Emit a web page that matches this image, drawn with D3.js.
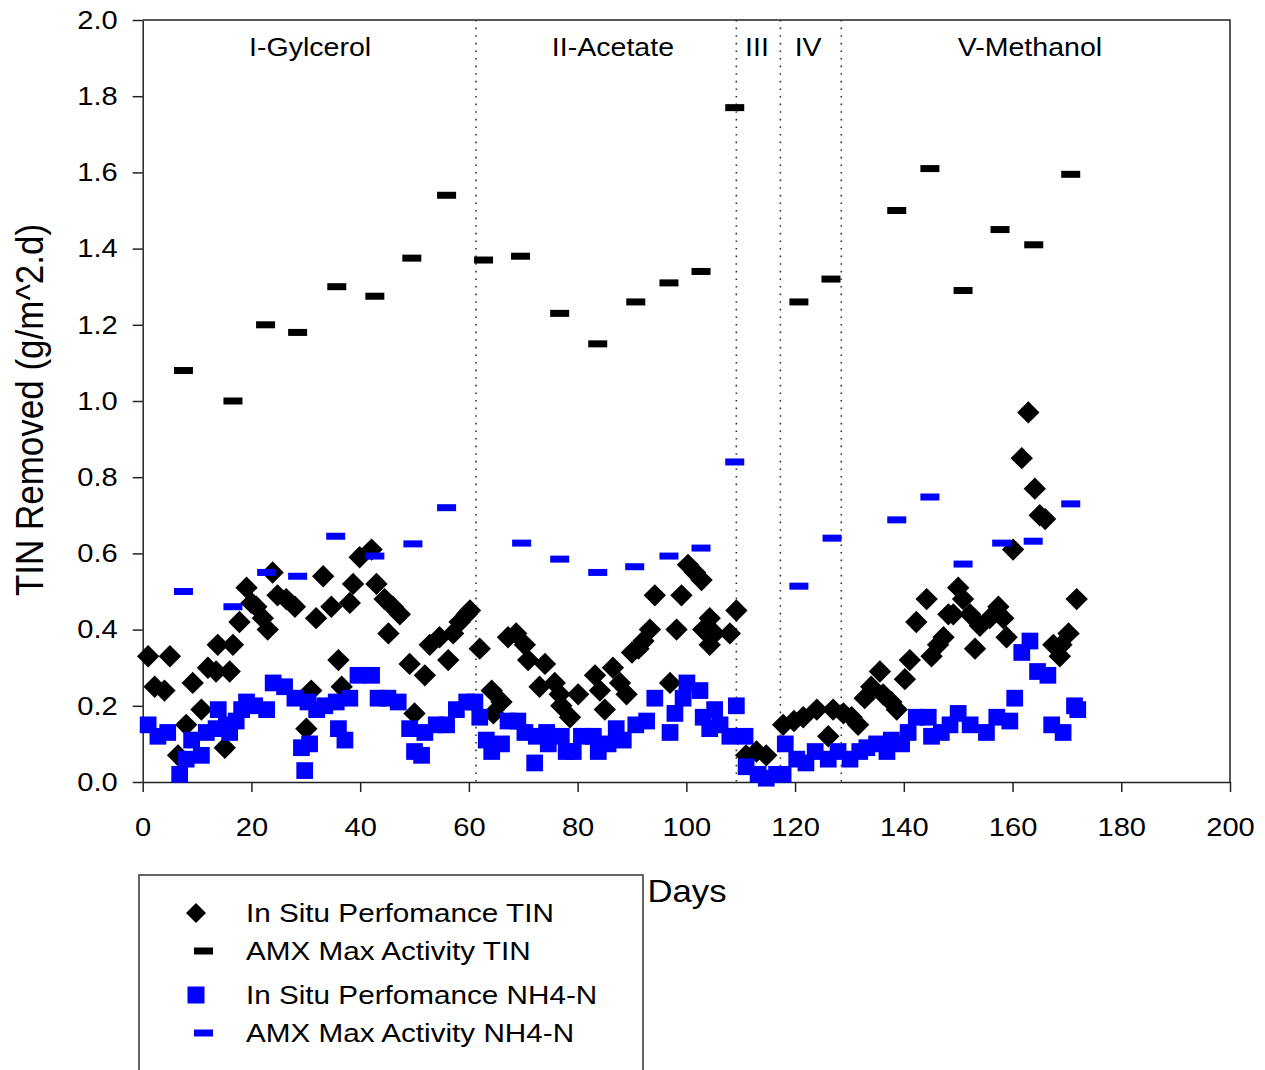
<!DOCTYPE html>
<html>
<head>
<meta charset="utf-8">
<script src="https://cdn.jsdelivr.net/npm/d3@7"></script>
<style>
  body { margin: 0; background: #fff; }
  text { font-family: "Liberation Sans", Arial, sans-serif; fill: #000; }
</style>
</head>
<body>
<svg id="chart" width="1265" height="1070"></svg>
<script>
// [day, g/m^2.d]
var tinInSitu = [
    [1.0, 0.33], [2.2, 0.25], [4.0, 0.24], [5.0, 0.33], [6.5, 0.07], [8.0, 0.15],
    [9.2, 0.26], [10.8, 0.19], [12.0, 0.30], [13.5, 0.29], [13.8, 0.36], [15.1, 0.09],
    [16.0, 0.29], [16.6, 0.36], [17.8, 0.42], [19.1, 0.51], [20.0, 0.47], [20.9, 0.46],
    [22.1, 0.43], [23.0, 0.40], [23.9, 0.55], [24.8, 0.49], [26.4, 0.48], [28.0, 0.46],
    [30.1, 0.14], [31.0, 0.24], [31.9, 0.43], [33.2, 0.54], [34.7, 0.46], [36.0, 0.32],
    [36.6, 0.25], [38.1, 0.47], [38.7, 0.52], [39.9, 0.59], [42.1, 0.61], [43.0, 0.52],
    [44.5, 0.48], [45.2, 0.39], [46.0, 0.46], [47.3, 0.44], [49.1, 0.31], [50.0, 0.18],
    [51.9, 0.28], [52.8, 0.36], [54.6, 0.38], [56.2, 0.32], [57.1, 0.39], [58.3, 0.42],
    [59.6, 0.44], [60.2, 0.45], [62.0, 0.35], [64.2, 0.24], [64.5, 0.18], [66.0, 0.21],
    [67.2, 0.38], [68.7, 0.39], [70.3, 0.36], [70.9, 0.32], [73.0, 0.25], [74.0, 0.31],
    [75.8, 0.26], [76.7, 0.23], [77.0, 0.20], [78.6, 0.17], [80.1, 0.23], [83.2, 0.28],
    [84.1, 0.24], [85.0, 0.19], [86.5, 0.30], [87.8, 0.26], [89.0, 0.23], [90.0, 0.34],
    [91.2, 0.35], [92.1, 0.37], [93.3, 0.40], [94.2, 0.49], [97.0, 0.26], [98.2, 0.40],
    [99.1, 0.49], [100.3, 0.57], [101.6, 0.55], [102.8, 0.53], [103.1, 0.40], [104.3, 0.43],
    [104.3, 0.36], [105.2, 0.39], [108.0, 0.39], [109.2, 0.45], [111.0, 0.07], [112.9, 0.08],
    [114.7, 0.07], [117.8, 0.15], [119.8, 0.16], [121.5, 0.17], [124.0, 0.19], [126.1, 0.12],
    [127.0, 0.19], [128.9, 0.18], [130.4, 0.17], [131.6, 0.15], [132.8, 0.22], [134.0, 0.25],
    [135.6, 0.29], [136.2, 0.23], [137.7, 0.21], [138.7, 0.19], [140.2, 0.27], [141.1, 0.32],
    [142.3, 0.42], [144.2, 0.48], [145.1, 0.33], [146.3, 0.36], [147.3, 0.38], [148.2, 0.44],
    [149.1, 0.44], [150.0, 0.51], [150.9, 0.48], [152.2, 0.44], [153.1, 0.35], [154.0, 0.41],
    [155.8, 0.43], [157.4, 0.46], [158.3, 0.43], [158.9, 0.38], [160.1, 0.61], [161.7, 0.85],
    [162.9, 0.97], [164.1, 0.77], [165.0, 0.70], [166.0, 0.69], [167.5, 0.36], [168.7, 0.33],
    [169.0, 0.36], [170.3, 0.39], [171.8, 0.48]
];

var tinMax = [
    [7.5, 1.08], [16.6, 1.00], [22.6, 1.20], [28.5, 1.18], [35.7, 1.30], [42.7, 1.275],
    [49.5, 1.375], [55.9, 1.54], [62.7, 1.37], [69.5, 1.38], [76.7, 1.23], [83.7, 1.15],
    [90.7, 1.26], [96.8, 1.31], [102.7, 1.34], [108.9, 1.77], [120.7, 1.26], [126.6, 1.32],
    [138.7, 1.50], [144.8, 1.61], [150.9, 1.29], [157.7, 1.45], [163.9, 1.41], [170.7, 1.595]
];

var nh4InSitu = [
    [1.0, 0.15], [2.8, 0.12], [4.6, 0.13], [6.8, 0.02], [8.0, 0.06], [9.0, 0.11],
    [10.8, 0.07], [11.7, 0.13], [13.5, 0.14], [13.9, 0.19], [15.4, 0.15], [16.0, 0.13],
    [17.2, 0.16], [18.2, 0.19], [19.1, 0.21], [20.6, 0.20], [22.8, 0.19], [24.0, 0.26],
    [26.1, 0.25], [28.0, 0.22], [29.2, 0.09], [29.8, 0.03], [30.4, 0.21], [30.7, 0.10],
    [32.0, 0.19], [33.5, 0.20], [35.6, 0.21], [36.0, 0.14], [37.2, 0.11], [38.1, 0.22],
    [39.6, 0.28], [42.1, 0.28], [43.3, 0.22], [45.1, 0.22], [47.0, 0.21], [49.1, 0.14],
    [50.0, 0.08], [51.3, 0.07], [51.9, 0.13], [54.0, 0.15], [55.9, 0.15], [57.7, 0.19],
    [59.6, 0.21], [61.1, 0.21], [62.0, 0.17], [63.2, 0.11], [64.2, 0.08], [66.0, 0.10],
    [67.2, 0.16], [69.0, 0.16], [70.3, 0.13], [72.1, 0.05], [72.4, 0.12], [74.3, 0.13],
    [74.6, 0.10], [77.0, 0.12], [77.9, 0.08], [79.2, 0.08], [80.7, 0.12], [82.9, 0.12],
    [83.8, 0.08], [85.6, 0.10], [87.1, 0.14], [88.4, 0.11], [90.7, 0.15], [92.7, 0.16],
    [94.2, 0.22], [97.0, 0.13], [97.9, 0.18], [99.4, 0.22], [100.1, 0.26], [102.5, 0.24],
    [103.1, 0.17], [104.3, 0.14], [105.2, 0.19], [106.2, 0.15], [108.0, 0.12], [109.2, 0.20],
    [110.8, 0.12], [111.0, 0.04], [113.2, 0.02], [114.7, 0.01], [116.6, 0.02], [117.8, 0.02],
    [118.2, 0.10], [120.3, 0.06], [122.0, 0.05], [123.7, 0.08], [126.1, 0.06], [127.9, 0.08],
    [130.1, 0.06], [131.9, 0.08], [133.2, 0.09], [135.0, 0.10], [136.9, 0.08], [137.7, 0.11],
    [139.6, 0.10], [140.8, 0.13], [142.3, 0.17], [144.5, 0.17], [145.1, 0.12], [146.9, 0.13],
    [148.5, 0.15], [150.0, 0.18], [152.2, 0.15], [155.2, 0.13], [157.1, 0.17], [159.5, 0.16],
    [160.4, 0.22], [161.7, 0.34], [163.2, 0.37], [164.6, 0.29], [166.5, 0.28], [167.2, 0.15],
    [169.3, 0.13], [171.4, 0.20], [172.0, 0.19]
];

var nh4Max = [
    [7.5, 0.50], [16.6, 0.46], [22.8, 0.55], [28.5, 0.54], [35.5, 0.645], [42.7, 0.593],
    [49.7, 0.625], [55.9, 0.72], [69.7, 0.627], [76.7, 0.585], [83.7, 0.55], [90.5, 0.565],
    [96.8, 0.593], [102.7, 0.614], [108.9, 0.84], [120.7, 0.514], [126.8, 0.64], [138.7, 0.688],
    [144.8, 0.748], [150.9, 0.572], [158.0, 0.627], [163.8, 0.632], [170.7, 0.73]
];

var phaseBreaks = [61.3, 109.2, 117.3, 128.5];
var phaseNames = ['I-Gylcerol', 'II-Acetate', 'III', 'IV', 'V-Methanol'];
var phaseCentres = [30.8, 86.5, 113.0, 122.4, 163.2];

var xTicks = d3.range(0, 201, 20);
var yTicks = d3.range(0, 2.01, 0.2);

var legendNames = ['In Situ Perfomance TIN', 'AMX Max Activity TIN',
    'In Situ Perfomance NH4-N', 'AMX Max Activity NH4-N'];

var stretch = 1.12; // the source picture is a bit wider than tall

var svg = d3.select('#chart');

var x = d3.scaleLinear().domain([0, 200]).range([142.7, 1230]);
var y = d3.scaleLinear().domain([0, 2]).range([782, 20]);

// frame (top and right)
svg.append('path')
    .attr('d', 'M' + x(0) + ',' + y(2) + 'H' + x(200) + 'V' + y(0))
    .attr('fill', 'none')
    .attr('stroke', '#222')
    .attr('stroke-width', 1.5)

// phase separators
svg.selectAll('.sep')
    .data(phaseBreaks)
    .enter().append('line')
    .attr('class', 'sep')
    .attr('x1', d => x(d))
    .attr('x2', d => x(d))
    .attr('y1', y(2))
    .attr('y2', y(0))
    .attr('stroke', '#333')
    .attr('stroke-width', 1.6)
    .attr('stroke-dasharray', '1.6,6')

svg.selectAll('.phase')
    .data(phaseNames)
    .enter().append('text')
    .attr('class', 'phase')
    .attr('text-anchor', 'middle')
    .attr('font-size', 25.5)
    .attr('transform', (d, i) => 'translate(' + x(phaseCentres[i]) + ',56) scale(' + stretch + ',1)')
    .text(d => d)

// axes
var xAxis = svg.append('g')
    .attr('transform', 'translate(0,' + y(0) + ')')
    .call(d3.axisBottom(x).tickValues(xTicks).tickSize(10).tickPadding(26).tickSizeOuter(0))
var yAxis = svg.append('g')
    .attr('transform', 'translate(' + x(0) + ',0)')
    .call(d3.axisLeft(y).tickValues(yTicks).tickFormat(d3.format('.1f')).tickSize(10).tickPadding(15).tickSizeOuter(0))

;[xAxis, yAxis].forEach(a => {
    a.select('.domain').attr('stroke', '#222').attr('stroke-width', 1.5)
    a.selectAll('.tick line').attr('stroke', '#222').attr('stroke-width', 1.5)
    a.selectAll('.tick text')
        .attr('font-size', 26)
        .attr('font-family', '"Liberation Sans", Arial, sans-serif')
        .attr('fill', '#000')
})
yAxis.selectAll('.tick text').each(function () {
    var t = d3.select(this)
    var tx = +t.attr('x')
    t.attr('x', 0).attr('transform', 'translate(' + tx + ',0) scale(' + stretch + ',1)')
})
xAxis.selectAll('.tick text').attr('transform', 'scale(' + stretch + ',1)')

svg.append('text')
    .attr('text-anchor', 'middle')
    .attr('font-size', 35)
    .attr('transform', 'translate(43,410) scale(' + stretch + ',1) rotate(-90)')
    .text('TIN Removed (g/m^2.d)')

svg.append('text')
    .attr('text-anchor', 'middle')
    .attr('font-size', 31)
    .attr('transform', 'translate(687,902) scale(' + stretch + ',1)')
    .text('Days')

// marks
var diamond = d3.symbol().type(d3.symbolSquare).size(250)
var square = d3.symbol().type(d3.symbolSquare).size(280)

svg.append('g').selectAll('path')
    .data(tinInSitu)
    .enter().append('path')
    .attr('d', diamond)
    .attr('transform', d => 'translate(' + x(d[0]) + ',' + y(d[1]) + ') rotate(45)')
    .attr('fill', '#000')

svg.append('g').selectAll('rect')
    .data(tinMax)
    .enter().append('rect')
    .attr('x', d => x(d[0]) - 9.5)
    .attr('y', d => y(d[1]) - 3.5)
    .attr('width', 19)
    .attr('height', 7)
    .attr('fill', '#000')

svg.append('g').selectAll('path')
    .data(nh4InSitu)
    .enter().append('path')
    .attr('d', square)
    .attr('transform', d => 'translate(' + x(d[0]) + ',' + y(d[1]) + ')')
    .attr('fill', '#0000ff')

svg.append('g').selectAll('rect')
    .data(nh4Max)
    .enter().append('rect')
    .attr('x', d => x(d[0]) - 9.5)
    .attr('y', d => y(d[1]) - 3.5)
    .attr('width', 19)
    .attr('height', 7)
    .attr('fill', '#0000ff')

// legend
var lg = svg.append('g')
lg.append('rect')
    .attr('x', 139)
    .attr('y', 875)
    .attr('width', 504)
    .attr('height', 210)
    .attr('fill', 'none')
    .attr('stroke', '#333')
    .attr('stroke-width', 1.5)

var rowY = [913, 951, 995, 1033];
lg.append('path').attr('d', d3.symbol().type(d3.symbolSquare).size(200))
    .attr('transform', 'translate(196,' + rowY[0] + ') rotate(45)').attr('fill', '#000')
lg.append('rect').attr('x', 194).attr('y', rowY[1] - 3.5).attr('width', 19).attr('height', 7).attr('fill', '#000')
lg.append('path').attr('d', d3.symbol().type(d3.symbolSquare).size(289))
    .attr('transform', 'translate(196,' + rowY[2] + ')').attr('fill', '#0000ff')
lg.append('rect').attr('x', 194).attr('y', rowY[3] - 3.5).attr('width', 19).attr('height', 7).attr('fill', '#0000ff')

lg.selectAll('.ltext')
    .data(legendNames)
    .enter().append('text')
    .attr('class', 'ltext')
    .attr('font-size', 26.5)
    .attr('transform', (d, i) => 'translate(246,' + (rowY[i] + 9) + ') scale(' + stretch + ',1)')
    .text(d => d)
</script>
</body>
</html>
